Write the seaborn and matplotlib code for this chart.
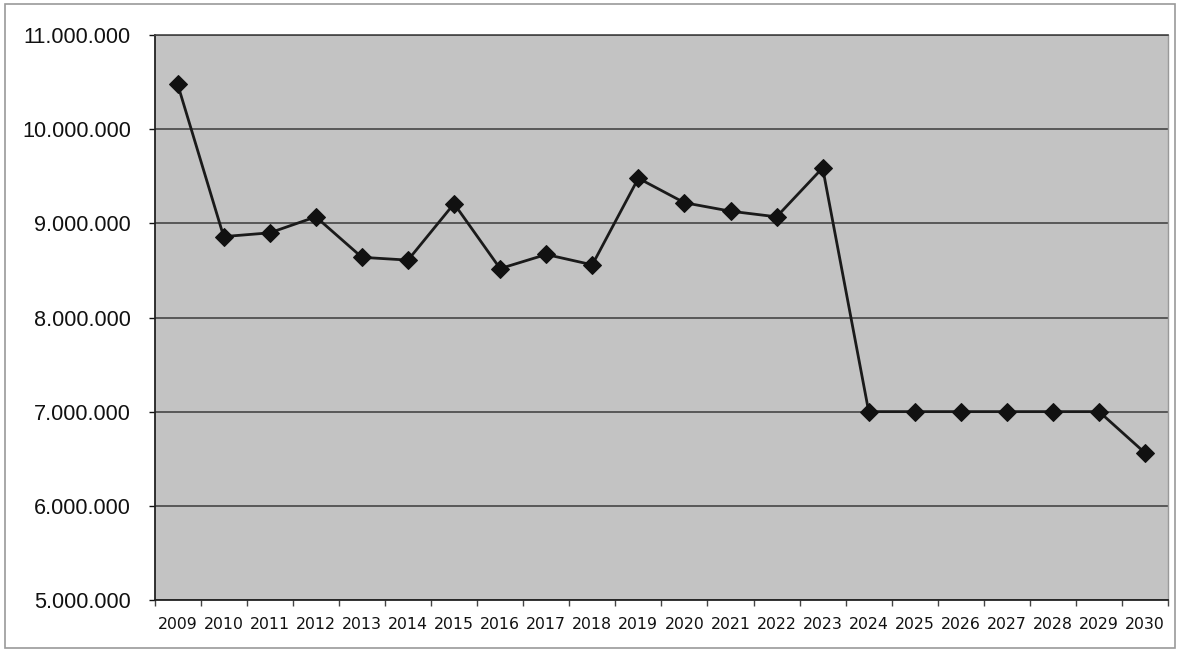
import matplotlib
matplotlib.use("Agg")
import matplotlib.pyplot as plt
import matplotlib.ticker as mticker
import seaborn as sns
import pandas as pd
from matplotlib.patches import Rectangle

years = [str(y) for y in range(2009, 2031)]
values = [10480000, 8860000, 8900000, 9070000, 8640000, 8610000, 9210000,
          8520000, 8670000, 8560000, 9480000, 9220000, 9130000, 9070000,
          9590000, 7000000, 7000000, 7000000, 7000000, 7000000, 7000000,
          6560000]
y_ticks = [5000000, 6000000, 7000000, 8000000, 9000000, 10000000, 11000000]

sns.set_theme(style="white")
plt.rcParams['font.family'] = ['Liberation Sans', 'DejaVu Sans']

df = pd.DataFrame({"year": years, "value": values})

fig = plt.figure(figsize=(11.8, 6.52), dpi=100)
fig.patch.set_facecolor("white")
fig.patches.append(Rectangle((0.004, 0.006), 0.992, 0.988, transform=fig.transFigure,
                             fill=False, edgecolor="#9a9a9a", linewidth=1.2))
ax = fig.add_axes([0.131, 0.080, 0.859, 0.866])
ax.set_facecolor("#c3c3c3")

sns.lineplot(data=df, x="year", y="value", ax=ax, color="#1a1a1a", linewidth=2,
             marker="D", markersize=9, markeredgecolor="#111111", markerfacecolor="#111111",
             sort=False, zorder=5)

ax.set_ylim(5000000, 11000000)
ax.set_xlim(-0.48, 21.45)
ax.set_yticks(y_ticks)
ax.yaxis.set_major_formatter(mticker.FuncFormatter(lambda v, p: f"{int(v):,}".replace(",", ".")))
ax.grid(axis="y", color="#3a3a3a", linewidth=1.1)
ax.set_axisbelow(True)
ax.set_xlabel("")
ax.set_ylabel("")
ax.tick_params(axis="y", labelsize=15.6, colors="#111111", length=4, width=1, direction="out", left=True, pad=13)
ax.set_xticks(range(len(years)))
ax.set_xticklabels(years, fontfamily="DejaVu Sans", fontsize=11.3)
ax.tick_params(axis="x", colors="#111111", length=0, pad=12)
ax.set_xticks([i + 0.5 for i in range(-1, len(years))], minor=True)
ax.tick_params(axis="x", which="minor", length=4, width=1, color="#444444", bottom=True, direction="out")
for s in ["left", "bottom"]:
    ax.spines[s].set_color("#222222")
    ax.spines[s].set_linewidth(1.3)
ax.spines["top"].set_color("#444444")
ax.spines["top"].set_linewidth(1.2)
ax.spines["right"].set_color("#999999")
ax.spines["right"].set_linewidth(1.0)

fig.savefig("out.png", dpi=100)
